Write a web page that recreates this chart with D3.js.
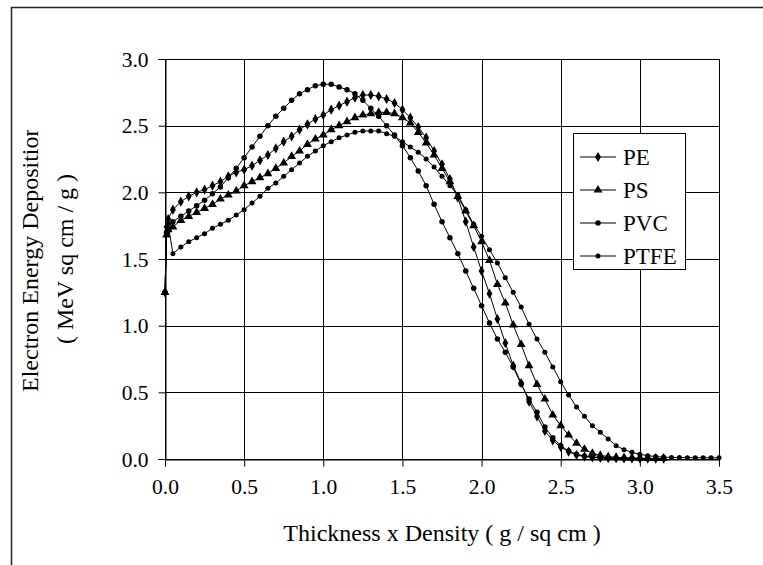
<!DOCTYPE html>
<html><head><meta charset="utf-8">
<script src="https://cdn.jsdelivr.net/npm/d3@7"></script>
<style>body{margin:0;background:#fff}svg{display:block}svg text{font-family:"Liberation Serif","Times New Roman",serif !important;fill:#000}</style>
</head><body><svg id="c" width="763" height="565"></svg>
<script>
const xTicks = [0, 0.5, 1.0, 1.5, 2.0, 2.5, 3.0, 3.5];
const yTicks = [0, 0.5, 1.0, 1.5, 2.0, 2.5, 3.0];
const seriesNames = ["PE", "PS", "PVC", "PTFE"];
const xMain = [0,0.01,0.02,0.05,0.10,0.15,0.20,0.25,0.30,0.35,0.40,0.45,0.50,0.55,0.60,0.65,0.70,0.75,0.80,0.85,0.90,0.95,1.00,1.05,1.10,1.15,1.20,1.25,1.30,1.35,1.40,1.45,1.50,1.55,1.60,1.65,1.70,1.75,1.80,1.85,1.90,1.95,2.00,2.05,2.10,2.15,2.20,2.25,2.30,2.35,2.40,2.45,2.50,2.55,2.60,2.65,2.70,2.75,2.80,2.85,2.90,2.95,3.00,3.05,3.10,3.15];
const xPTFE = [0,0.01,0.025,0.05,0.10,0.15,0.20,0.25,0.30,0.35,0.40,0.45,0.50,0.55,0.60,0.65,0.70,0.75,0.80,0.85,0.90,0.95,1.00,1.05,1.10,1.15,1.20,1.25,1.30,1.35,1.40,1.45,1.50,1.55,1.60,1.65,1.70,1.75,1.80,1.85,1.90,1.95,2.00,2.05,2.10,2.15,2.20,2.25,2.30,2.35,2.40,2.45,2.50,2.55,2.60,2.65,2.70,2.75,2.80,2.85,2.90,2.95,3.00,3.05,3.10,3.15,3.20,3.25,3.30,3.35,3.40,3.45,3.50];
const yPE = [1.25,1.74,1.80,1.87,1.93,1.97,2.00,2.02,2.05,2.08,2.12,2.15,2.17,2.20,2.24,2.28,2.33,2.38,2.42,2.47,2.51,2.55,2.58,2.62,2.65,2.68,2.71,2.73,2.73,2.72,2.70,2.67,2.62,2.56,2.49,2.41,2.31,2.21,2.10,1.96,1.78,1.59,1.41,1.24,1.05,0.87,0.70,0.57,0.43,0.32,0.21,0.14,0.09,0.055,0.03,0.018,0.012,0.009,0.007,0.006,0.005,0.004,0.004,0.003,0.003,0.003];
const yPS = [1.25,1.68,1.72,1.74,1.79,1.82,1.85,1.88,1.91,1.95,1.98,2.01,2.05,2.08,2.11,2.14,2.18,2.22,2.27,2.31,2.36,2.40,2.43,2.47,2.50,2.53,2.56,2.58,2.59,2.60,2.60,2.59,2.56,2.52,2.45,2.37,2.28,2.18,2.08,1.97,1.86,1.75,1.63,1.49,1.31,1.17,1.005,0.86,0.70,0.56,0.45,0.33,0.25,0.18,0.118,0.073,0.043,0.027,0.018,0.012,0.009,0.007,0.006,0.005,0.004,0.004];
const yPVC = [1.25,1.70,1.76,1.78,1.82,1.86,1.90,1.94,1.99,2.04,2.11,2.18,2.26,2.34,2.42,2.50,2.57,2.63,2.69,2.74,2.77,2.80,2.81,2.81,2.79,2.77,2.74,2.69,2.63,2.57,2.50,2.43,2.35,2.26,2.16,2.05,1.91,1.78,1.66,1.54,1.41,1.28,1.15,1.02,0.90,0.80,0.69,0.56,0.45,0.35,0.24,0.16,0.10,0.06,0.035,0.022,0.015,0.010,0.008,0.006,0.005,0.005,0.004,0.004,0.003,0.003];
const yPTFE = [1.25,1.70,1.72,1.54,1.59,1.63,1.66,1.69,1.73,1.76,1.79,1.83,1.87,1.92,1.97,2.03,2.07,2.12,2.17,2.22,2.27,2.31,2.35,2.38,2.41,2.43,2.45,2.46,2.46,2.46,2.44,2.42,2.38,2.34,2.30,2.25,2.19,2.12,2.05,1.98,1.87,1.76,1.67,1.57,1.47,1.36,1.25,1.14,1.01,0.90,0.80,0.69,0.58,0.48,0.39,0.32,0.25,0.20,0.15,0.10,0.07,0.05,0.035,0.025,0.018,0.014,0.012,0.011,0.010,0.010,0.009,0.009,0.009];

const FONT = "'Liberation Serif', 'Times New Roman', serif";
const svg = d3.select("#c");
const L = 165, R = 719, T = 59, B = 459;
const x = d3.scaleLinear().domain([0, 3.5]).range([L, R]);
const y = d3.scaleLinear().domain([0, 3]).range([B, T]);

// outer frame
svg.append("rect").attr("x", 11.5).attr("y", 7.5).attr("width", 800).attr("height", 600)
  .attr("fill", "none").attr("stroke", "#222").attr("stroke-width", 1.5);

// grid
const g = svg.append("g");
g.selectAll("line.v").data(xTicks).join("line")
  .attr("x1", d => Math.round(x(d)) + 0.5).attr("x2", d => Math.round(x(d)) + 0.5)
  .attr("y1", T).attr("y2", B).attr("stroke", "#000").attr("stroke-width", 1);
g.selectAll("line.h").data(yTicks).join("line")
  .attr("y1", d => Math.round(y(d)) + 0.5).attr("y2", d => Math.round(y(d)) + 0.5)
  .attr("x1", L).attr("x2", R).attr("stroke", "#000").attr("stroke-width", 1);

// axes
const fmt = d3.format(".1f");
const ax = svg.append("g").attr("transform", `translate(0,${B + 0.5})`)
  .call(d3.axisBottom(x).tickValues(xTicks).tickFormat(fmt).tickSize(7).tickPadding(8));
const ay = svg.append("g").attr("transform", `translate(${L + 0.5},0)`)
  .call(d3.axisLeft(y).tickValues(yTicks).tickFormat(fmt).tickSize(7).tickPadding(10));
[ax, ay].forEach(a => {
  a.attr("font-family", FONT).attr("font-size", null);
  a.selectAll("text").style("font-family", FONT).style("font-size", "21.5px").attr("fill", "#000");
  a.selectAll("line,path").attr("stroke", "#000");
});
ax.selectAll("text").attr("dy", "0.9em");
ay.selectAll("text").attr("dy", "0.33em");

// titles
svg.append("text").attr("x", (L + R) / 2).attr("y", 541).attr("text-anchor", "middle")
  .style("font-family", FONT).style("font-size", "24px").text("Thickness x Density ( g / sq cm )");
svg.append("clipPath").attr("id", "yclip").append("rect")
  .attr("x", 0).attr("y", 130).attr("width", 120).attr("height", 400);
svg.append("g").attr("clip-path", "url(#yclip)")
  .append("text").attr("transform", "translate(38,392) rotate(-90)").attr("text-anchor", "start")
  .style("font-family", FONT).style("font-size", "24px").text("Electron Energy Deposition");
svg.append("text").attr("transform", `translate(73,${(T + B) / 2}) rotate(-90)`).attr("text-anchor", "middle")
  .style("font-family", FONT).style("font-size", "24px").text("( MeV sq cm / g )");

// series
const series = [
  {name: seriesNames[0], xs: xMain, ys: yPE, sym: d3.symbolDiamond, size: 30},
  {name: seriesNames[1], xs: xMain, ys: yPS, sym: d3.symbolTriangle, size: 34},
  {name: seriesNames[2], xs: xMain, ys: yPVC, sym: d3.symbolCircle, size: 24},
  {name: seriesNames[3], xs: xPTFE, ys: yPTFE, sym: d3.symbolCircle, size: 20}
];
const line = d3.line().x(d => x(d[0])).y(d => y(d[1]));
series.forEach(s => {
  const pts = d3.zip(s.xs, s.ys);
  svg.append("path").attr("d", line(pts)).attr("fill", "none").attr("stroke", "#000").attr("stroke-width", 1);
  svg.append("g").selectAll("path").data(pts).join("path")
    .attr("transform", d => `translate(${x(d[0])},${y(d[1])})`)
    .attr("d", d3.symbol(s.sym, s.size)).attr("fill", "#000");
});

// legend
const lg = svg.append("g");
lg.append("rect").attr("x", 573.5).attr("y", 133.5).attr("width", 112).attr("height", 136)
  .attr("fill", "#fff").attr("stroke", "#000").attr("stroke-width", 1);
const rows = [157, 190, 223, 256];
series.forEach((s, i) => {
  const ry = rows[i];
  lg.append("line").attr("x1", 580).attr("x2", 616).attr("y1", ry).attr("y2", ry).attr("stroke", "#000");
  lg.append("path").attr("transform", `translate(598,${ry})`).attr("d", d3.symbol(s.sym, s.size)).attr("fill", "#000");
  lg.append("text").attr("x", 623).attr("y", ry).attr("dy", "0.33em")
    .style("font-family", FONT).style("font-size", "23px").text(s.name);
});
</script></body></html>
